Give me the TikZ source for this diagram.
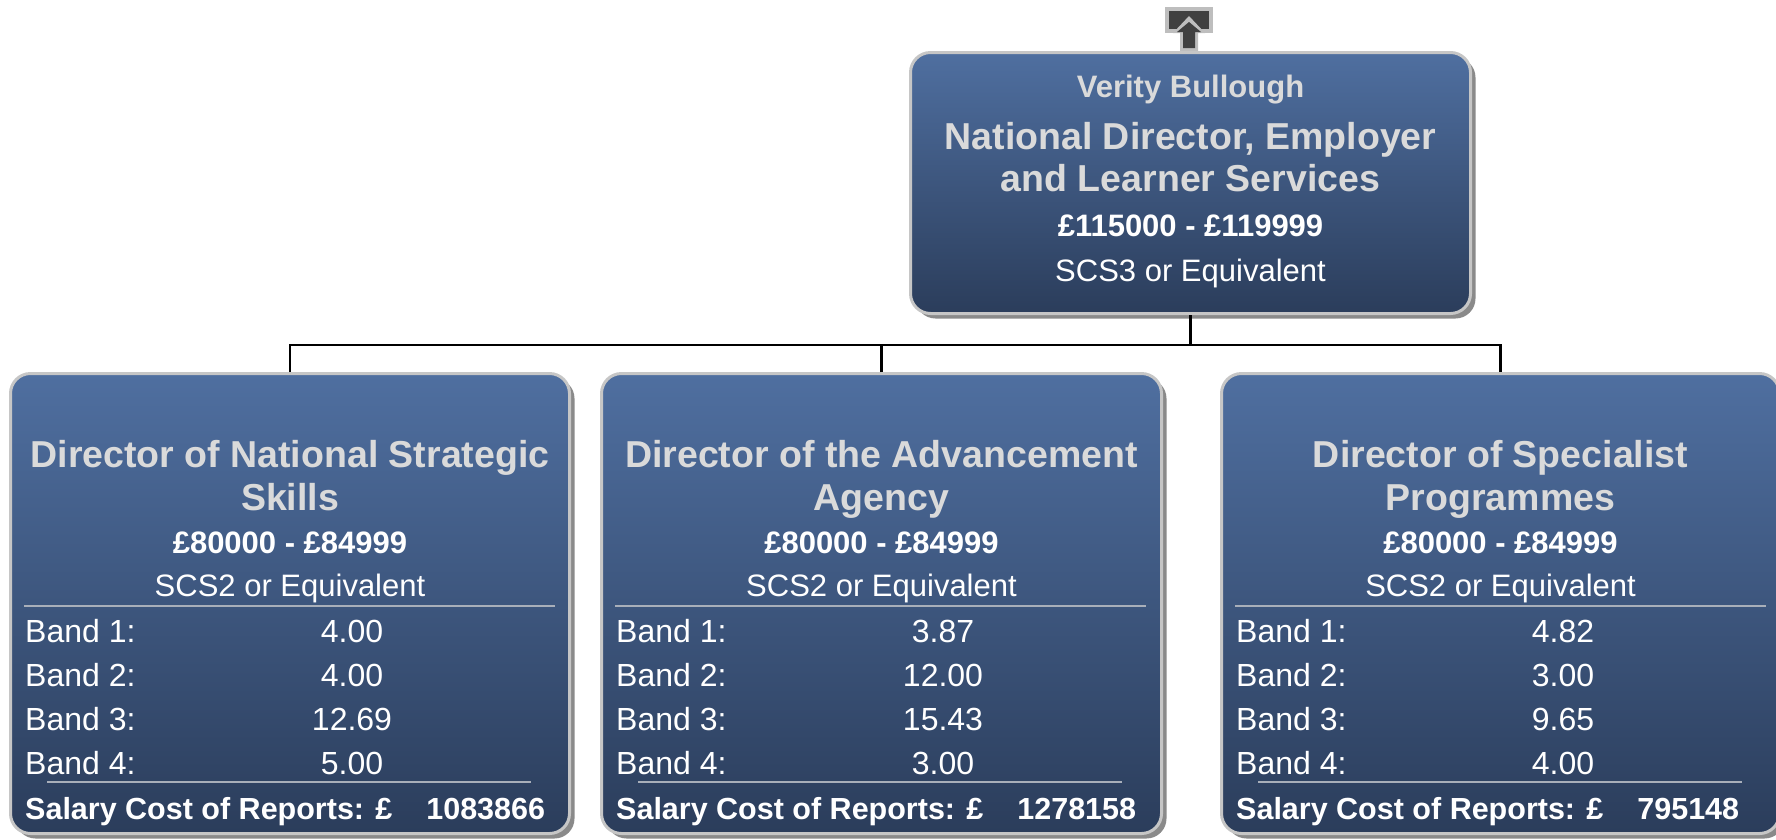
\documentclass[tikz,border=0pt]{standalone}
\usepackage{fontspec}
\setmainfont{Liberation Sans}
\usetikzlibrary{shadows,calc}
\definecolor{boxtop}{HTML}{4F6FA0}
\definecolor{boxbot}{HTML}{2B3D5B}
\definecolor{rim}{HTML}{C6C6C6}
\definecolor{shadecol}{HTML}{8A8A8A}
\definecolor{ttl}{HTML}{DADADA}
\definecolor{seplc}{HTML}{A9AFBA}
\definecolor{icondark}{HTML}{404040}
\definecolor{iconlight}{HTML}{BEBEBE}
\tikzset{
  orgbox/.style={rectangle, rounded corners=20, draw=rim, line width=3,
    top color=boxtop, bottom color=boxbot, inner sep=0,
    drop shadow={shadow xshift=5pt, shadow yshift=-5pt, fill=shadecol, opacity=1}},
  conn/.style={draw=black, line width=2.8},
  ttltext/.style={text=ttl, font=\fontsize{37.5}{43}\selectfont\bfseries, anchor=base, inner sep=0},
  nametext/.style={text=ttl, font=\fontsize{31}{37}\selectfont\bfseries, anchor=base, inner sep=0},
  paytext/.style={text=white, font=\fontsize{31}{37}\selectfont\bfseries, anchor=base, inner sep=0},
  gradetext/.style={text=white, font=\fontsize{31}{37}\selectfont, anchor=base, inner sep=0},
  bandtext/.style={text=white, font=\fontsize{32}{38}\selectfont, inner sep=0},
  saltext/.style={text=white, font=\fontsize{30.5}{36}\selectfont\bfseries, anchor=base west, inner sep=0},
  sepline/.style={draw=seplc, line width=2.2},
}
\newcommand\dirbox[7]{%
  \node[orgbox, minimum width=#3, minimum height=460, anchor=north west] (#1) at (#2,372) {};
  \node[ttltext] (#1-ta) at ($(#1.north)+(0,95)$) {#4};
  \node[ttltext] (#1-tb) at ($(#1.north)+(0,138)$) {#5};
  \node[paytext] (#1-pay) at ($(#1.north)+(0,181)$) {£80000 - £84999};
  \node[gradetext] (#1-grade) at ($(#1.north)+(0,224)$) {SCS2 or Equivalent};
  \draw[sepline] ($(#1.north west)+(15,234)$) -- ($(#1.north west)+(546,234)$);
  \foreach \v [count=\i] in {#6} {
    \node[bandtext, anchor=base west] (#1-l\i) at ($(#1.north west)+(16,226+44*\i)$) {Band \i:};
    \node[bandtext, anchor=base] (#1-v\i) at ($(#1.north west)+(343,226+44*\i)$) {\v};
  }
  \draw[sepline] ($(#1.north west)+(38,410)$) -- ($(#1.north west)+(522,410)$);
  \node[saltext] (#1-sal) at ($(#1.north west)+(16,447)$) {Salary Cost of Reports: £\hspace{34pt}#7};
}
\begin{document}
\begin{tikzpicture}[x=1pt, y=-1pt]
\useasboundingbox (0,0) rectangle (1776,839);

% up-arrow icon
\fill[iconlight] (1165,7) rectangle (1213,33);
\fill[icondark] (1169,11) rectangle (1209,29);
\fill[iconlight] (1189,16) -- (1205,33) -- (1198,33) -- (1198,51) -- (1180,51) -- (1180,33) -- (1173,33) -- cycle;
\fill[icondark] (1189,22) -- (1201,32) -- (1195,32) -- (1195,48) -- (1183,48) -- (1183,32) -- (1177,32) -- cycle;

% boxes
\node[orgbox, minimum width=560, minimum height=261, anchor=north west] (top) at (909,51) {};
\node[nametext] (top-name) at ($(top.north)+(0,46)$) {Verity Bullough};
\node[ttltext] (top-ta) at ($(top.north)+(0,98)$) {National Director, Employer};
\node[ttltext] (top-tb) at ($(top.north)+(0,140)$) {and Learner Services};
\node[paytext] (top-pay) at ($(top.north)+(0,185)$) {£115000 - £119999};
\node[gradetext] (top-grade) at ($(top.north)+(0,230)$) {SCS3 or Equivalent};

\dirbox{b1}{9}{559}{Director of National Strategic}{Skills}{4.00,4.00,12.69,5.00}{1083866}
\dirbox{b2}{600}{560}{Director of the Advancement}{Agency}{3.87,12.00,15.43,3.00}{1278158}
\dirbox{b3}{1220}{558}{Director of Specialist}{Programmes}{4.82,3.00,9.65,4.00}{795148}

% connectors
\coordinate (j) at ($(top.south)+(0,30)$);
\draw[conn] (top.south) -- (j);
\draw[conn] (b1.north) |- (j) -| (b3.north);
\draw[conn] (b2.north) -- (b2.north |- j);
\end{tikzpicture}
\end{document}
